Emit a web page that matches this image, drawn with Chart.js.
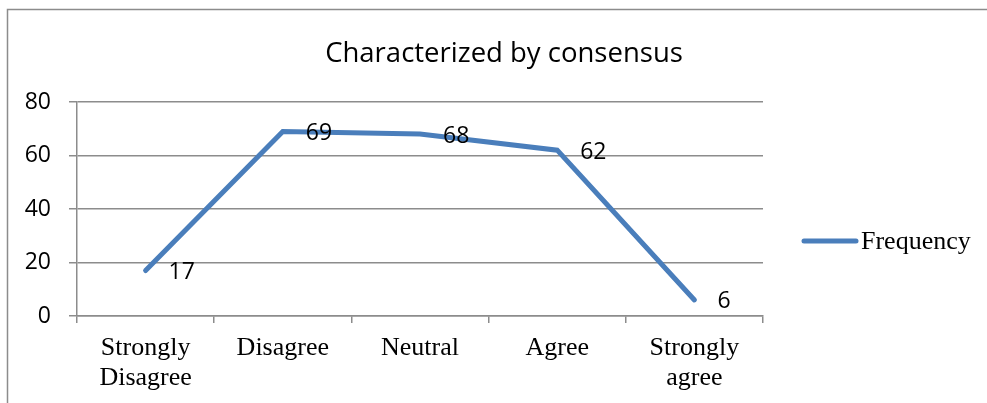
<!DOCTYPE html>
<html>
<head>
<meta charset="utf-8">
<style>
  html, body { margin: 0; padding: 0; background: #ffffff; }
  #wrap { width: 987px; height: 403px; position: relative; }
</style>
<script src="https://cdn.jsdelivr.net/npm/chart.js@4.4.1/dist/chart.umd.min.js"></script>
</head>
<body>
<div id="wrap"><canvas id="chart" width="987" height="403"></canvas></div>
<script>
// Survey responses: "Characterized by consensus"
const chartTitle = 'Characterized by consensus';
const seriesName = 'Frequency';
const categories = [
  ['Strongly', 'Disagree'],
  'Disagree',
  'Neutral',
  'Agree',
  ['Strongly', 'agree']
];
const frequency = [17, 69, 68, 62, 6];
const yTicks = [0, 20, 40, 60, 80];

const lineColor = '#4a7ebb';
const gridColor = '#8c8c8c';
const sansFont = "'Open Sans', 'Noto Sans', sans-serif";
const serifFont = "'Liberation Serif', 'DejaVu Serif', serif";

// Frame, title, legend and value labels drawn on the canvas
const decorations = {
  id: 'decorations',
  beforeDraw(chart) {
    const ctx = chart.ctx;
    ctx.save();
    ctx.strokeStyle = '#8c8c8c';
    ctx.lineWidth = 1.5;
    ctx.beginPath();
    ctx.moveTo(7.5, 403);
    ctx.lineTo(7.5, 9.5);
    ctx.lineTo(990, 9.5);
    ctx.stroke();
    ctx.restore();
  },
  afterDatasetsDraw(chart) {
    const ctx = chart.ctx;
    const meta = chart.getDatasetMeta(0);
    const values = chart.data.datasets[0].data;
    ctx.save();
    ctx.fillStyle = '#000000';
    ctx.font = "23px " + sansFont;
    ctx.textAlign = 'left';
    ctx.textBaseline = 'middle';
    meta.data.forEach((pt, i) => {
      ctx.fillText(String(values[i]), pt.x + 23, pt.y + 2);
    });
    ctx.restore();
  },
  afterDraw(chart) {
    const ctx = chart.ctx;
    ctx.save();
    // title
    ctx.fillStyle = '#000000';
    ctx.font = "27.5px " + sansFont;
    ctx.textAlign = 'center';
    ctx.textBaseline = 'middle';
    ctx.fillText(chartTitle, 504, 54);
    // legend
    ctx.strokeStyle = lineColor;
    ctx.lineWidth = 5;
    ctx.lineCap = 'round';
    ctx.beginPath();
    ctx.moveTo(804, 241);
    ctx.lineTo(856, 241);
    ctx.stroke();
    ctx.font = "26px " + serifFont;
    ctx.textAlign = 'left';
    ctx.fillText(seriesName, 861, 242);
    ctx.restore();
  }
};

new Chart(document.getElementById('chart'), {
  type: 'line',
  data: {
    labels: categories,
    datasets: [{
      label: seriesName,
      data: frequency,
      borderColor: lineColor,
      backgroundColor: lineColor,
      borderWidth: 5,
      borderCapStyle: 'round',
      borderJoinStyle: 'miter',
      pointRadius: 0,
      pointHoverRadius: 0,
      tension: 0,
      fill: false
    }]
  },
  options: {
    responsive: false,
    animation: false,
    events: [],
    layout: { padding: { top: 102, right: 224, left: 0, bottom: 0 } },
    plugins: {
      legend: { display: false },
      title: { display: false },
      tooltip: { enabled: false }
    },
    scales: {
      x: {
        type: 'category',
        offset: true,
        grid: {
          offset: true,
          drawOnChartArea: false,
          drawTicks: true,
          tickLength: 7,
          color: gridColor,
          lineWidth: 1.5
        },
        border: { display: true, color: gridColor, width: 1.5 },
        ticks: {
          color: '#000000',
          font: { family: serifFont, size: 26, lineHeight: 1.15 },
          padding: 10,
          maxRotation: 0,
          autoSkip: false
        },
        afterFit(scale) { scale.height = 87; }
      },
      y: {
        min: 0,
        max: 80,
        afterBuildTicks(scale) { scale.ticks = yTicks.map(v => ({ value: v })); },
        grid: {
          color: gridColor,
          lineWidth: 1.5,
          drawTicks: true,
          tickLength: 8
        },
        border: { display: true, color: gridColor, width: 1.5 },
        ticks: {
          color: '#000000',
          font: { family: sansFont, size: 23 },
          padding: 18
        },
        afterFit(scale) { scale.width = 77; }
      }
    }
  },
  plugins: [decorations]
});
</script>
</body>
</html>
